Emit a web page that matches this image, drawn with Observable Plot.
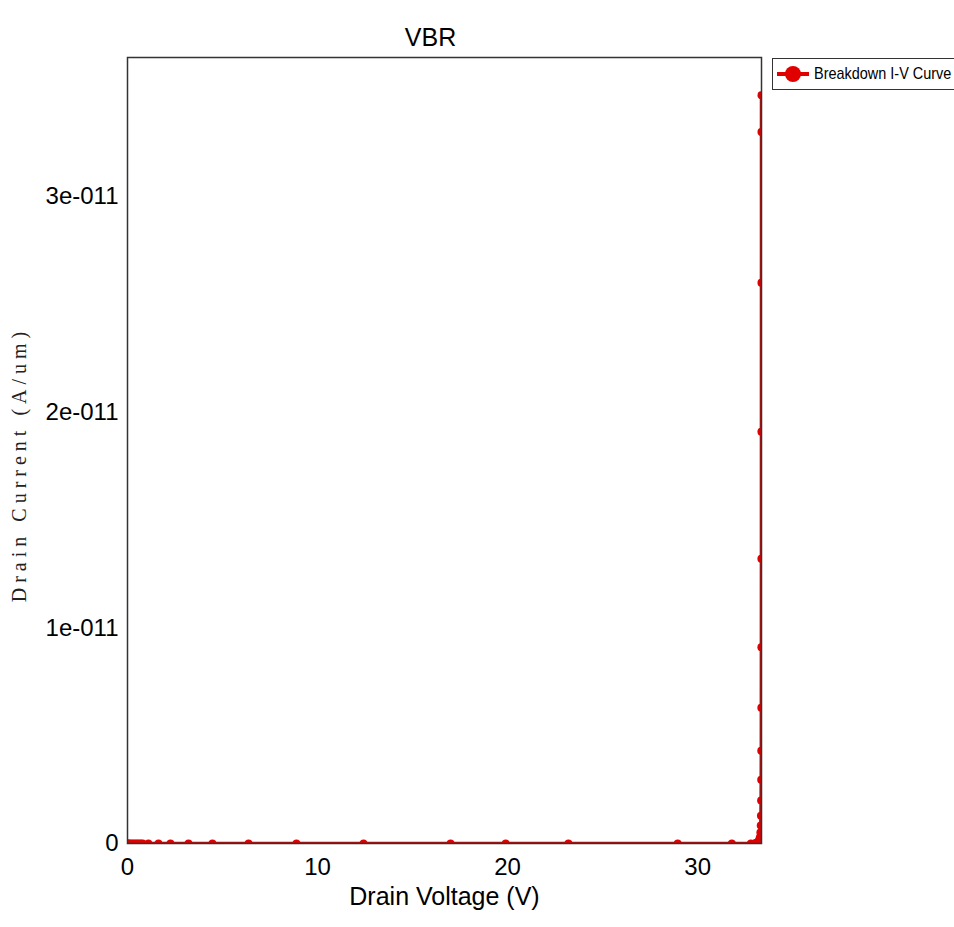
<!DOCTYPE html>
<html><head><meta charset="utf-8">
<script src="https://cdn.jsdelivr.net/npm/d3@7"></script>
<script src="https://cdn.jsdelivr.net/npm/@observablehq/plot@0.6"></script>
<style>
html,body{margin:0;padding:0;background:#fff;overflow:hidden;}
#wrap{position:relative;width:954px;height:927px;overflow:hidden;}
#legend{position:absolute;left:772px;top:58px;width:220px;height:32px;border:1.5px solid #333;background:#fff;
  font-family:"Liberation Sans",Arial,sans-serif;font-size:17px;
  display:flex;align-items:center;box-sizing:border-box;color:#000;white-space:nowrap;}
#legend svg{margin-left:3px;margin-right:4px;flex:none;}
#legend span{display:inline-block;transform:scaleX(0.85);transform-origin:left center;}
</style></head>
<body><div id="wrap"></div>
<script>
const title = "VBR";
const xLabel = "Drain Voltage (V)";
const yLabel = "Drain Current (A/um)";
const seriesName = "Breakdown I-V Curve";
const xTicks = [0, 10, 20, 30];
const xTickLabels = ["0", "10", "20", "30"];
const yTicks = [0, 1e-11, 2e-11, 3e-11];
const yTickLabels = ["0", "1e-011", "2e-011", "3e-011"];

const voltage = [0, 0.05, 0.1, 0.2, 0.3, 0.4, 0.5, 0.6, 0.7, 0.8, 1.1, 1.63, 2.26, 3.21, 4.47, 6.37, 8.89, 12.42, 17.0, 19.9, 23.2, 28.95, 31.8, 32.8, 33.05, 33.15, 33.22, 33.27, 33.3, 33.32, 33.33, 33.34, 33.345, 33.35, 33.352, 33.354, 33.356, 33.357, 33.358, 33.359, 33.36];
const current = [0, 0, 0, 0, 0, 0, 0, 0, 0, 0, 0, 0, 0, 0, 0, 0, 0, 0, 0, 0, 0, 0, 0, 1e-16, 2e-14, 6e-14, 1.4e-13, 2.8e-13, 5.1e-13, 8.3e-13, 1.29e-12, 1.99e-12, 2.96e-12, 4.3e-12, 6.3e-12, 9.1e-12, 1.32e-11, 1.91e-11, 2.60e-11, 3.30e-11, 3.47e-11];

const data = voltage.map((v, i) => ({v, c: current[i]}));

const chart = Plot.plot({
  width: 954, height: 927,
  marginLeft: 127, marginRight: 193, marginTop: 57, marginBottom: 84,
  style: {fontFamily: "'Liberation Sans', Arial, sans-serif", fontSize: "24px", background: "#fff", color: "#000"},
  x: {domain: [0, 33.36], label: null},
  y: {domain: [0, 3.645e-11], label: null},
  marks: [
    Plot.axisX({ticks: xTicks, tickSize: 0, tickPadding: 14, fontSize: 24, label: null,
      tickFormat: d => xTickLabels[xTicks.indexOf(d)]}),
    Plot.axisY({ticks: yTicks, tickSize: 0, tickPadding: 9, fontSize: 24, label: null,
      tickFormat: d => yTickLabels[yTicks.indexOf(d)]}),
    Plot.line(data, {x: "v", y: "c", stroke: "#b80c0c", strokeWidth: 3.5, clip: true}),
    Plot.dot(data, {x: "v", y: "c", r: 4, fill: "#e00000", stroke: "none", clip: true}),
    Plot.frame({stroke: "#333", strokeWidth: 1.5}),
    Plot.text([title], {frameAnchor: "top", dx: -14, dy: -29, fontSize: 25, fill: "#000"}),
    Plot.text([xLabel], {frameAnchor: "bottom", dy: 61, fontSize: 25, fill: "#000"}),
    Plot.text([yLabel], {frameAnchor: "left", textAnchor: "middle", dx: -108, dy: 14, rotate: -90, fontSize: 20, fill: "#222",
      fontFamily: "'Liberation Serif', 'Times New Roman', serif"})
  ]
});

d3.select(chart).selectAll("text").filter(function() { return this.textContent === yLabel; })
  .attr("letter-spacing", 5);

const wrap = document.getElementById("wrap");
wrap.appendChild(chart);

const legend = document.createElement("div");
legend.id = "legend";
legend.innerHTML = '<svg width="34" height="20"><line x1="1" y1="10" x2="33" y2="10" stroke="#e00000" stroke-width="4"/><circle cx="17" cy="10" r="8" fill="#e00000"/></svg><span></span>';
legend.querySelector("span").textContent = seriesName;
wrap.appendChild(legend);
</script>
</body></html>
